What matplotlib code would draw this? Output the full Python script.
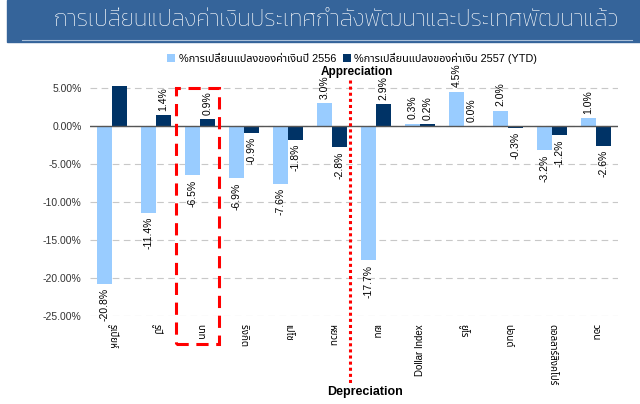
import matplotlib
matplotlib.use("Agg")
import matplotlib.pyplot as plt
import numpy as np
from matplotlib.patches import Rectangle

# data
categories = ["รูเปียห์", "รูปี", "บาท", "ริงกิต", "เปโซ", "หยวน", "เยน",
              "Dollar Index", "ยูโร", "ปอนด์", "ดอลลาร์สิงคโปร์", "วอน"]
chg_2556 = [-20.8, -11.4, -6.5, -6.9, -7.6, 3.0, -17.7, 0.3, 4.5, 2.0, -3.2, 1.0]
chg_2557 = [5.3, 1.4, 0.9, -0.9, -1.8, -2.8, 2.9, 0.2, 0.0, -0.3, -1.2, -2.6]
series_names = ["%การเปลี่ยนแปลงของค่าเงินปี 2556", "%การเปลี่ยนแปลงของค่าเงิน 2557 (YTD)"]
yticks = [5, 0, -5, -10, -15, -20, -25]

FONT = ["Liberation Sans", "Noto Sans Thai", "DejaVu Sans"]
plt.rcParams["font.family"] = FONT

fig = plt.figure(figsize=(6.4, 4.04), dpi=100)

# title banner
fig.patches.append(Rectangle((7 / 640, 1 - 42 / 404), 633 / 640, 42 / 404,
                             transform=fig.transFigure, color="#35649a", zorder=0))
fig.lines.append(plt.Line2D([22 / 640, 632 / 640], [1 - 40 / 404, 1 - 40 / 404],
                            transform=fig.transFigure, color="#a9bfd8", lw=0.8))
fig.text(336 / 640, 1 - 21 / 404, "การเปลี่ยนแปลงค่าเงินประเทศกำลังพัฒนาและประเทศพัฒนาแล้ว",
         color="white", fontsize=16.5, ha="center", va="center",
         family=["Kanit", "DejaVu Sans"], fontweight="light")

ax = fig.add_axes([90 / 640, 1 - 316 / 404, 528 / 640, 232 / 404])
x = np.arange(len(categories))
w = 0.35
b1 = ax.bar(x - w / 2, chg_2556, w, color="#99ccff", label=series_names[0], zorder=2)
b2 = ax.bar(x + w / 2, chg_2557, w, color="#003366", label=series_names[1], zorder=2)

ax.set_xlim(-0.5, 11.5)
ax.set_ylim(-25, 5.5)
ax.set_yticks(yticks)
ax.set_yticklabels([f"{v:.2f}%" for v in yticks], fontsize=7.5, color="#333333")
ax.set_xticks(x)
ax.set_xticklabels(categories, fontsize=7, va="top")
for lbl in ax.get_xticklabels():
    # latin label reads upward, thai labels read downward as in the original
    lbl.set_rotation(90 if lbl.get_text().isascii() else 270)
ax.tick_params(length=0)
ax.tick_params(axis="x", pad=6)
ax.tick_params(axis="y", pad=6)
for s in ax.spines.values():
    s.set_visible(False)
ax.grid(axis="y", color="#c8c8c8", linestyle=(0, (6, 4)), lw=0.8, zorder=0)
ax.axhline(0, color="#555555", lw=1.0, zorder=3)

# value labels
for bars, vals, skip in [(b1, chg_2556, []), (b2, chg_2557, [0])]:
    for i, (r, v) in enumerate(zip(bars, vals)):
        if i in skip:
            continue
        cx = r.get_x() + r.get_width() / 2
        if v >= 0:
            ax.annotate(f"{v:.1f}%", (cx, v), xytext=(0, 3), textcoords="offset points",
                        rotation=90, ha="center", va="bottom", fontsize=7.5, annotation_clip=False)
        else:
            ax.annotate(f"{v:.1f}%", (cx, v), xytext=(0, -3), textcoords="offset points",
                        rotation=90, ha="center", va="top", fontsize=7.5, annotation_clip=False)

# red dotted divider and dashed box around baht
ax.plot([5.41, 5.41], [6.05, -33.9], color="red", ls=(0, (1, 1)), lw=2.2,
        clip_on=False, zorder=4)
ax.add_patch(Rectangle((1.45, -28.7), 0.98, 33.7, fill=False, edgecolor="red",
                       ls=(0, (4, 2.5)), lw=2.2, clip_on=False, zorder=4))

fig.text(357 / 640, 1 - 72 / 404, "Appreciation", ha="center", va="center",
         fontsize=8.5, fontweight="bold", zorder=5)
fig.text(365 / 640, 1 - 392 / 404, "Depreciation", ha="center", va="center",
         fontsize=9, fontweight="bold")

fig.legend(loc="center", bbox_to_anchor=(352 / 640, 1 - 58 / 404), ncol=2,
           frameon=False, fontsize=7.8, handlelength=0.8, handleheight=0.8,
           handletextpad=0.3, columnspacing=0.6)

fig.savefig("out.png", dpi=100)
